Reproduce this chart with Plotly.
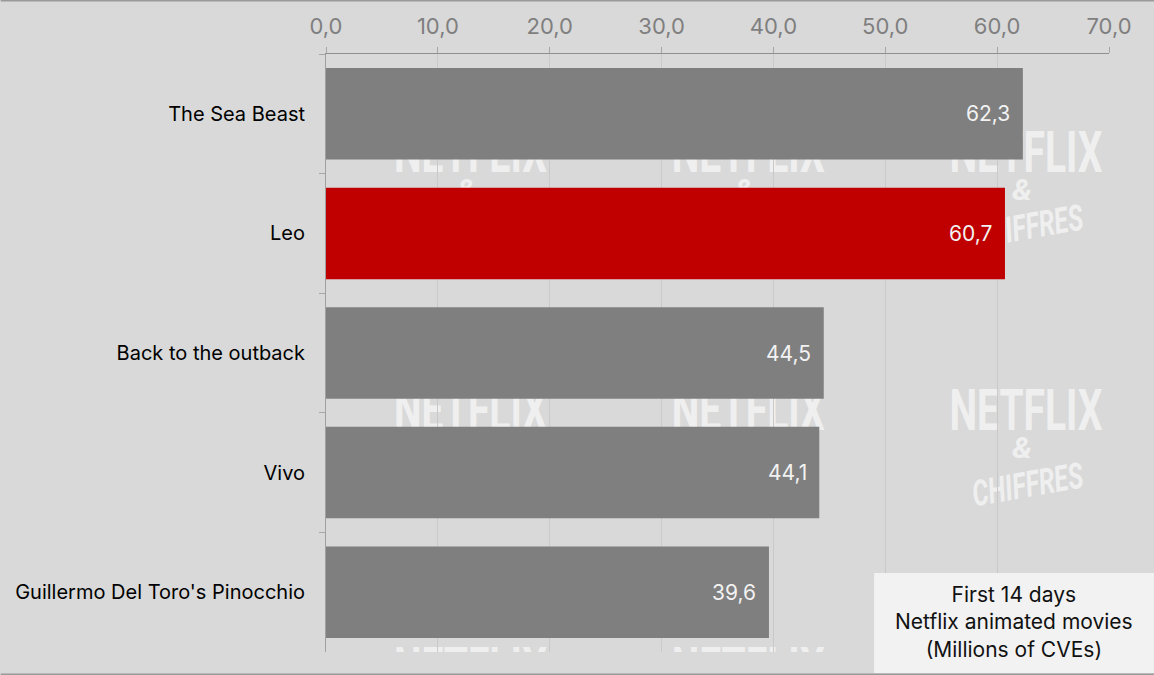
import plotly.graph_objects as go

W, H = 1154, 675
movies = ["The Sea Beast", "Leo", "Back to the outback", "Vivo", "Guillermo Del Toro's Pinocchio"]
views = [62.3, 60.7, 44.5, 44.1, 39.6]
bar_colors = ["#7f7f7f", "#c00000", "#7f7f7f", "#7f7f7f", "#7f7f7f"]
tick_values = [0, 10, 20, 30, 40, 50, 60, 70]
note_lines = ["First 14 days", "Netflix animated movies", "(Millions of CVEs)"]

BG = "#d9d9d9"
MARK = "#efefef"
FONT = "Inter"
WM_FONT = "Roboto"

fig = go.Figure(go.Bar(
    y=movies, x=views, orientation="h", marker=dict(color=bar_colors, line=dict(width=0)),
    hoverinfo="skip",
))

M_L, M_R, M_T, M_B = 325.5, 45, 54, 23
def to_paper_x(px):
    return (px - M_L) / (W - M_L - M_R)
def to_paper_y(py):
    return 1 - (py - M_T) / (H - M_T - M_B)
def rect(x0, y0, x1, y1, **kw):
    return dict(type="rect", xref="paper", yref="paper",
                x0=to_paper_x(x0), x1=to_paper_x(x1),
                y0=to_paper_y(y1), y1=to_paper_y(y0), **kw)

def wm(cx, cy, text, size, angle=0, italic=False):
    return rect(cx - 90, cy - 35, cx + 90, cy + 35, layer="below",
                line=dict(width=0), fillcolor="rgba(0,0,0,0)",
                label=dict(text=text, textposition="middle center", textangle=angle,
                           font=dict(family=WM_FONT, size=size, color=MARK,
                                     weight="bold", style="italic" if italic else "normal")))

shapes = []
for cx in (470, 748, 1026):
    for top, full in ((130, True), (388, True), (646, False)):
        shapes.append(wm(cx, top + 18, "NETFLIX", 57))
        if full:
            shapes.append(wm(cx - 4, top + 57, "&amp;", 30, italic=True))
            shapes.append(wm(cx + 1, top + 94, "CHIFFRES", 36, angle=-10, italic=True))

shapes.append(rect(0, 652, W, H, layer="below", line=dict(width=0), fillcolor=BG))
shapes.append(rect(874, 573, W, 673, layer="above", line=dict(width=0), fillcolor="#f2f2f2"))
shapes.append(rect(0, 0, W, 1.5, layer="above", line=dict(width=0), fillcolor="#9a9a9a"))
shapes.append(rect(0, 673.5, W, H, layer="above", line=dict(width=0), fillcolor="#9a9a9a"))

value_notes = [dict(x=v, y=m, xref="x", yref="y", text=f"{v:.1f}".replace(".", ","),
                    showarrow=False, xanchor="right", xshift=-10.5,
                    font=dict(family=FONT, size=21, color="#f2f2f2"))
               for m, v in zip(movies, views)]

fig.update_layout(
    width=W, height=H, autosize=False,
    margin=dict(l=M_L, r=M_R, t=M_T, b=M_B, pad=0),
    paper_bgcolor=BG, plot_bgcolor="rgba(0,0,0,0)",
    separators=",.", bargap=0.235, showlegend=False,
    font=dict(family=FONT, size=20, color="#000000"),
    shapes=shapes,
    annotations=value_notes + [dict(
        xref="paper", yref="paper", x=to_paper_x(1014), y=to_paper_y(621.5),
        text="<br>".join(note_lines), showarrow=False, align="center",
        font=dict(family=FONT, size=21, color="#111111"), xanchor="center", yanchor="middle",
    )],
    xaxis=dict(side="top", range=[0, 70], tickvals=tick_values, tickformat=".1f",
               showgrid=True, gridcolor="#c9c9c9", gridwidth=1, zeroline=False,
               showline=True, linecolor="#8f8f8f", linewidth=1,
               ticks="outside", ticklen=6, tickcolor="#a6a6a6", ticklabelstandoff=4,
               tickfont=dict(family=FONT, size=22, color="#7f7f7f")),
    yaxis=dict(autorange="reversed", type="category", tickson="boundaries",
               showline=True, linecolor="#a0a0a0", linewidth=1, showgrid=False, zeroline=False,
               ticks="outside", ticklen=6, tickcolor="#a6a6a6", ticklabelstandoff=16,
               tickfont=dict(family=FONT, size=20, color="#000000")),
)

post = """
document.documentElement.style.margin='0';
document.body.style.margin='0';
var widths={'NETFLIX':153,'CHIFFRES':112,'&':20};
document.querySelectorAll('.shape-label-text').forEach(function(t){
  var w=widths[t.textContent];
  if(w){t.setAttribute('textLength',w);t.setAttribute('lengthAdjust','spacingAndGlyphs');}
});
"""
fig.write_html("out.html", post_script=post, config=dict(displayModeBar=False))
